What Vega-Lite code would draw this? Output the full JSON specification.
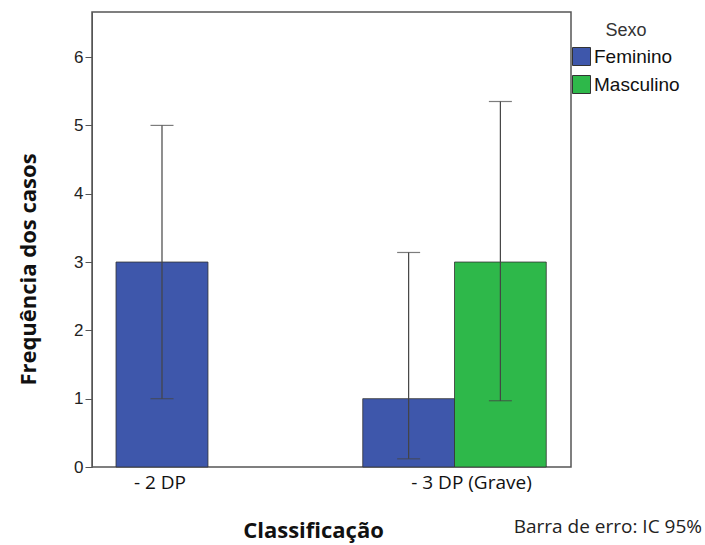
{
  "$schema": "https://vega.github.io/schema/vega-lite/v6.json",
  "width": 479,
  "height": 455,
  "autosize": {"type": "none"},
  "padding": {"left": 92, "top": 12, "right": 134, "bottom": 78},
  "background": "white",
  "title": {
    "text": "Barra de erro: IC 95%",
    "orient": "bottom",
    "anchor": "end",
    "frame": "group",
    "dx": 131,
    "offset": -23,
    "font": "Open Sans",
    "fontSize": 19,
    "fontWeight": "normal",
    "color": "#222"
  },
  "data": {
    "values": [
      {"Classificacao": "- 2 DP", "Sexo": "Feminino", "freq": 3, "lo": 1, "hi": 5},
      {"Classificacao": "- 3 DP (Grave)", "Sexo": "Feminino", "freq": 1, "lo": 0.12, "hi": 3.14},
      {"Classificacao": "- 3 DP (Grave)", "Sexo": "Masculino", "freq": 3, "lo": 0.97, "hi": 5.35}
    ]
  },
  "resolve": {"scale": {"x": "independent"}, "axis": {"x": "independent"}},
  "layer": [
    {
      "transform": [{"filter": "datum.Classificacao == '- 2 DP'"}],
      "encoding": {
        "x": {
          "field": "Classificacao",
          "type": "nominal",
          "scale": {"domain": ["- 2 DP", "- 3 DP (Grave)"], "paddingInner": 0.5214, "paddingOuter": 0.0795, "align": 0},
          "axis": {
            "title": "Classificação",
            "labelAngle": 0,
            "domain": false,
            "ticks": false,
            "labelFont": "Open Sans",
            "labelFontSize": 19,
            "labelColor": "#111",
            "labelPadding": 6,
            "labelOffset": {"condition": {"test": "datum.value == '- 3 DP (Grave)'", "value": 17}, "value": -2},
            "titleFont": "Open Sans",
            "titleFontSize": 22,
            "titleFontWeight": "bold",
            "titleColor": "#111",
            "titlePadding": 28,
            "titleX": 221
          }
        }
      },
      "layer": [
        {
          "mark": {"type": "bar", "width": {"band": 0.657}, "stroke": "#333", "strokeWidth": 0.8},
          "encoding": {
            "y": {"field": "freq", "type": "quantitative", "title": "Frequência dos casos",
                  "scale": {"domain": [0, 6.66], "nice": false},
                  "axis": {
                    "values": [0, 1, 2, 3, 4, 5, 6],
                    "format": "d",
                    "grid": false,
                    "tickSize": 7,
                    "tickColor": "#555",
                    "domainColor": "#555",
                    "labelFont": "Liberation Sans",
                    "labelFontSize": 17,
                    "labelColor": "#222",
                    "labelPadding": 2,
                    "titleFont": "Open Sans",
                    "titleFontSize": 22,
                    "titleFontWeight": "bold",
                    "titleColor": "#111",
                    "titlePadding": 33,
                    "titleY": 257
                  }},
            "color": {"field": "Sexo", "type": "nominal",
                      "scale": {"domain": ["Feminino", "Masculino"], "range": ["#3E57AB", "#2EB84A"]},
                      "legend": {"title": "Sexo"}}
          }
        },
        {
          "mark": {"type": "rule", "color": "#444", "strokeWidth": 1.2},
          "encoding": {
            "y": {"field": "lo", "type": "quantitative", "title": "Frequência dos casos"},
            "y2": {"field": "hi"}
          }
        },
        {
          "mark": {"type": "tick", "color": "#444", "size": 23, "thickness": 1.2},
          "encoding": {"y": {"field": "lo", "type": "quantitative", "title": "Frequência dos casos"}}
        },
        {
          "mark": {"type": "tick", "color": "#444", "size": 23, "thickness": 1.2},
          "encoding": {"y": {"field": "hi", "type": "quantitative", "title": "Frequência dos casos"}}
        }
      ]
    },
    {
      "transform": [{"filter": "datum.Classificacao == '- 3 DP (Grave)'"}],
      "encoding": {
        "x": {
          "field": "Classificacao",
          "type": "nominal",
          "scale": {"domain": ["- 2 DP", "- 3 DP (Grave)"], "paddingInner": 0.3223, "paddingOuter": 0.0457, "align": 0},
          "axis": null
        },
        "xOffset": {"field": "Sexo", "type": "nominal", "scale": {"domain": ["Feminino", "Masculino"], "paddingInner": 0, "paddingOuter": 0}}
      },
      "layer": [
        {
          "mark": {"type": "bar", "stroke": "#333", "strokeWidth": 0.8},
          "encoding": {
            "y": {"field": "freq", "type": "quantitative", "title": "Frequência dos casos"},
            "color": {"field": "Sexo", "type": "nominal"}
          }
        },
        {
          "mark": {"type": "rule", "color": "#444", "strokeWidth": 1.2},
          "encoding": {
            "y": {"field": "lo", "type": "quantitative", "title": "Frequência dos casos"},
            "y2": {"field": "hi"}
          }
        },
        {
          "mark": {"type": "tick", "color": "#444", "size": 23, "thickness": 1.2},
          "encoding": {"y": {"field": "lo", "type": "quantitative", "title": "Frequência dos casos"}}
        },
        {
          "mark": {"type": "tick", "color": "#444", "size": 23, "thickness": 1.2},
          "encoding": {"y": {"field": "hi", "type": "quantitative", "title": "Frequência dos casos"}}
        }
      ]
    }
  ],
  "config": {
    "view": {"stroke": "#555", "strokeWidth": 1.5},
    "legend": {
      "orient": "none",
      "legendX": 480,
      "legendY": 10,
      "titleFont": "Liberation Sans",
      "titleFontSize": 18,
      "titleFontWeight": "normal",
      "titleColor": "#333",
      "titleAnchor": "middle",
      "titlePadding": 7,
      "labelFont": "Liberation Sans",
      "labelFontSize": 19,
      "labelColor": "#111",
      "labelOffset": 3,
      "symbolType": "square",
      "symbolSize": 324,
      "symbolStrokeColor": "#333",
      "symbolStrokeWidth": 1,
      "rowPadding": 5
    }
  }
}
